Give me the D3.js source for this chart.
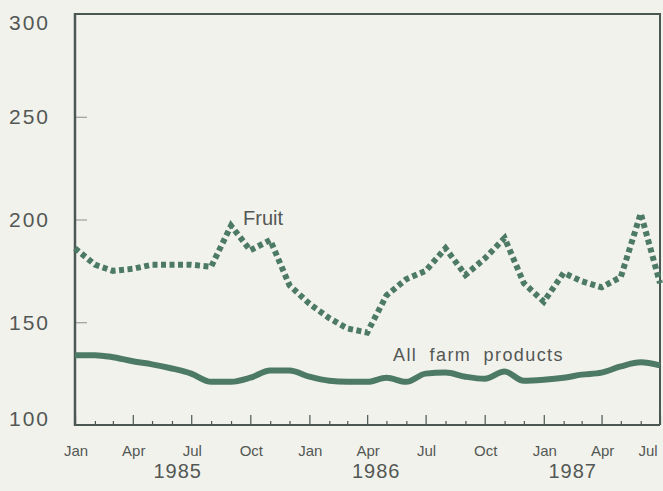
<!DOCTYPE html>
<html>
<head>
<meta charset="utf-8">
<script src="https://cdn.jsdelivr.net/npm/d3@7"></script>
<style>
  html, body { margin: 0; padding: 0; background: #f2f2ec; }
  svg { display: block; }
  text { font-family: "Liberation Sans", Arial, sans-serif; fill: #535855; }
</style>
</head>
<body>
<svg width="663" height="491"></svg>
<script>
const W = 663, H = 491;

// monthly index values, Jan 1985 - Jul 1987
const months = ["1985-01","1985-02","1985-03","1985-04","1985-05","1985-06","1985-07","1985-08","1985-09","1985-10","1985-11","1985-12",
  "1986-01","1986-02","1986-03","1986-04","1986-05","1986-06","1986-07","1986-08","1986-09","1986-10","1986-11","1986-12",
  "1987-01","1987-02","1987-03","1987-04","1987-05","1987-06","1987-07"];
const fruit = [186,178,175,176,178,178,178,177,197,185,190,168,159,152,147,145,163,171,175,186,173,181,191,169,160,174,170,167,172,203,169];
const farmProducts = [134,134,133,131,129.5,127.5,125,121,121,123,126.5,126.5,123.5,121.5,121,121,123,121,125,125.5,123.5,122.5,126,121.5,122,123,124.5,125.5,128.5,130.5,129];
const yTicks = [100, 150, 200, 250, 300];
const monthLabels = [["1985-01","Jan"],["1985-04","Apr"],["1985-07","Jul"],["1985-10","Oct"],
  ["1986-01","Jan"],["1986-04","Apr"],["1986-07","Jul"],["1986-10","Oct"],
  ["1987-01","Jan"],["1987-04","Apr"],["1987-07","Jul"]];
const yearLabels = [["1985-06-10","1985"],["1986-04-15","1986"],["1987-02-15","1987"]];

const parse = d3.timeParse("%Y-%m");
const parseDay = d3.timeParse("%Y-%m-%d");
const dates = months.map(parse);

const mLeft = 75, mRight = 660, mTop = 14, mBottom = 425;
const lineColor = "#4d7a66";
const axisColor = "#4b5753";

const x = d3.scaleTime()
  .domain([dates[0], dates[dates.length - 1]])
  .range([mLeft, mRight]);
const y = d3.scaleLinear()
  .domain([100, 300])
  .range([mBottom, mTop]);

const svg = d3.select("svg");

// frame top + right
svg.append("path")
  .attr("d", `M${mLeft},${mTop}H${mRight}V${mBottom}`)
  .attr("fill", "none")
  .attr("stroke", axisColor)
  .attr("stroke-width", 2);

// y axis
const yAxis = svg.append("g")
  .attr("transform", `translate(${mLeft},0)`)
  .call(d3.axisRight(y).tickValues(yTicks.slice(1, -1)).tickSize(12).tickFormat(""));
yAxis.select(".domain").remove();
yAxis.selectAll("line").attr("stroke", "#8a8f8c").attr("stroke-width", 1);
svg.append("line")
  .attr("x1", mLeft).attr("x2", mLeft).attr("y1", mTop - 1).attr("y2", mBottom + 1)
  .attr("stroke", axisColor).attr("stroke-width", 2.5);

svg.append("g").selectAll("text")
  .data(yTicks)
  .join("text")
  .attr("x", 50)
  .attr("y", d => y(d) + (d === 300 ? 8 : d === 100 ? -7 : 0))
  .attr("dy", "0.36em")
  .attr("text-anchor", "end")
  .attr("font-size", 21)
  .attr("letter-spacing", 2)
  .text(d => d);

// x axis, monthly ticks pointing up, longer each quarter
const xAxis = svg.append("g")
  .attr("transform", `translate(0,${mBottom})`)
  .call(d3.axisTop(x).tickValues(dates).tickSize(4).tickFormat(""));
xAxis.select(".domain").remove();
xAxis.selectAll(".tick line")
  .attr("stroke", axisColor)
  .attr("stroke-width", 1.2)
  .attr("y2", d => d.getMonth() % 3 === 0 ? -10 : -4);
svg.append("line")
  .attr("x1", mLeft).attr("x2", mRight).attr("y1", mBottom).attr("y2", mBottom)
  .attr("stroke", axisColor).attr("stroke-width", 2);

svg.append("g").selectAll("text")
  .data(monthLabels)
  .join("text")
  .attr("x", (d, i) => x(parse(d[0])) + (i === monthLabels.length - 1 ? -12 : 1))
  .attr("y", 456)
  .attr("text-anchor", "middle")
  .attr("font-size", 15)
  .text(d => d[1]);

svg.append("g").selectAll("text")
  .data(yearLabels)
  .join("text")
  .attr("x", d => x(parseDay(d[0])))
  .attr("y", 478)
  .attr("text-anchor", "middle")
  .attr("font-size", 20)
  .attr("letter-spacing", 1)
  .text(d => d[1]);

// series
const farmLine = d3.line()
  .x((d, i) => x(dates[i]))
  .y(d => y(d))
  .curve(d3.curveMonotoneX);
svg.append("path")
  .datum(farmProducts)
  .attr("d", farmLine)
  .attr("fill", "none")
  .attr("stroke", lineColor)
  .attr("stroke-width", 6)
  .attr("stroke-linejoin", "round");

const fruitLine = d3.line()
  .x((d, i) => x(dates[i]))
  .y(d => y(d));
svg.append("path")
  .datum(fruit)
  .attr("d", fruitLine)
  .attr("fill", "none")
  .attr("stroke", lineColor)
  .attr("stroke-width", 6)
  .attr("stroke-dasharray", "5,3.5");

// series labels
svg.append("text")
  .attr("x", 243).attr("y", 225)
  .attr("font-size", 20)
  .text("Fruit");
svg.append("text")
  .attr("x", 393).attr("y", 361)
  .attr("font-size", 18)
  .attr("letter-spacing", 1.4)
  .attr("word-spacing", 6)
  .text("All farm products");
</script>
</body>
</html>
